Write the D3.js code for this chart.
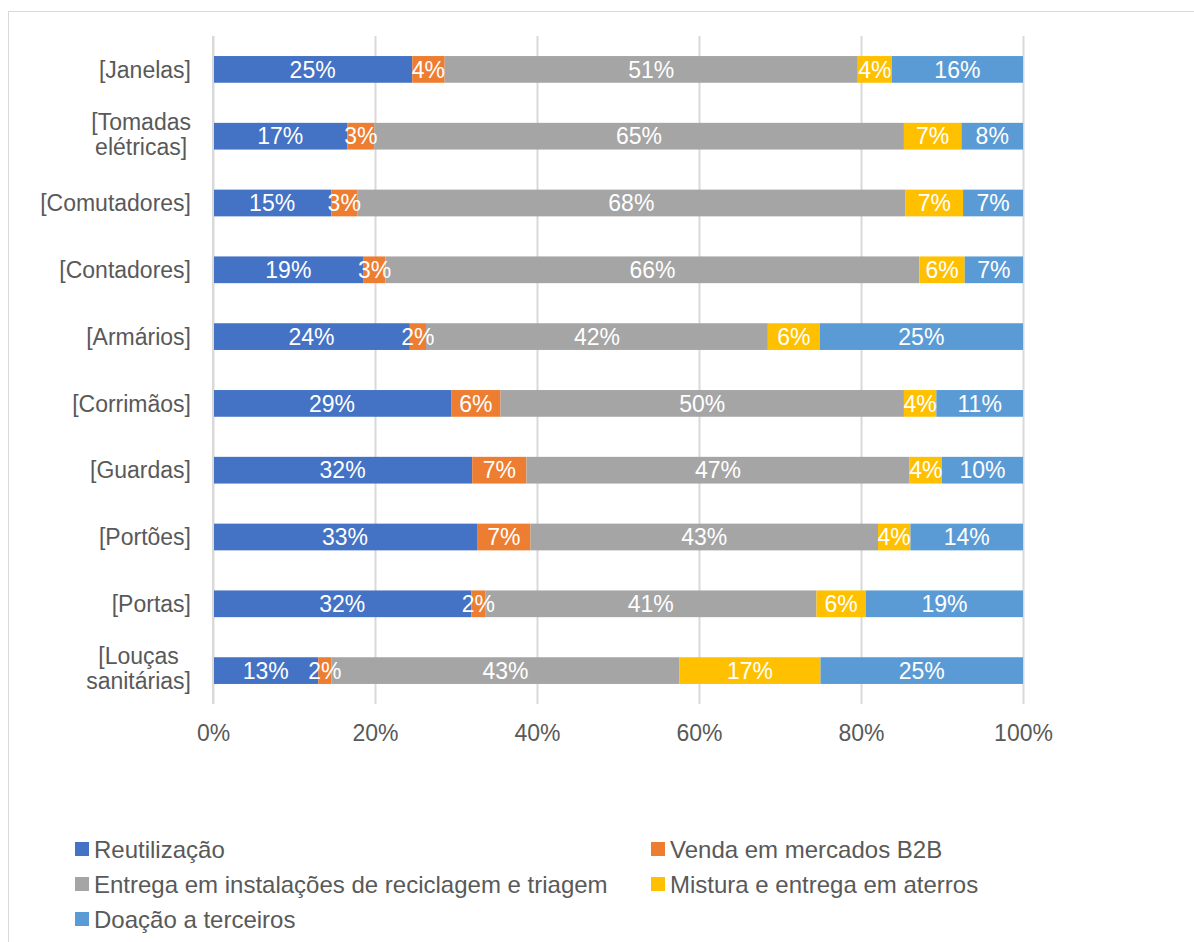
<!DOCTYPE html>
<html>
<head>
<meta charset="utf-8">
<script src="https://cdn.jsdelivr.net/npm/d3@7"></script>
<style>
  html, body { margin: 0; padding: 0; background: #fff; }
  svg { display: block; }
  text { font-family: "Liberation Sans", Arial, sans-serif; }
</style>
</head>
<body>
<svg id="chart" width="1194" height="942"></svg>
<script>
const categories = ["[Janelas]", "[Tomadas elétricas]", "[Comutadores]", "[Contadores]", "[Armários]",
  "[Corrimãos]", "[Guardas]", "[Portões]", "[Portas]", "[Louças sanitárias]"];
const seriesNames = ["Reutilização", "Venda em mercados B2B", "Entrega em instalações de reciclagem e triagem",
  "Mistura e entrega em aterros", "Doação a terceiros"];
const reutilizacao = [24.6, 16.6, 14.6, 18.6, 24.3, 29.4, 32.0, 32.6, 31.9, 13.0];
const vendaB2B     = [4.0, 3.3, 3.2, 2.7, 2.0, 6.1, 6.7, 6.6, 1.7, 1.6];
const reciclagem   = [51.0, 65.4, 67.7, 65.9, 42.2, 49.8, 47.3, 42.9, 40.9, 43.0];
const aterros      = [4.2, 7.1, 7.1, 5.6, 6.4, 4.0, 4.0, 4.0, 6.1, 17.4];
const doacao       = [16.2, 7.6, 7.4, 7.2, 25.1, 10.7, 10.0, 13.9, 19.4, 25.0];
const tickValues = [0, 0.2, 0.4, 0.6, 0.8, 1.0];
const colors = ["#4472C4", "#ED7D31", "#A5A5A5", "#FFC000", "#5B9BD5"];

const seriesValues = [reutilizacao, vendaB2B, reciclagem, aterros, doacao];
const keys = ["s0", "s1", "s2", "s3", "s4"];
const rows = categories.map((c, i) => {
  const r = { cat: c };
  keys.forEach((k, j) => r[k] = seriesValues[j][i] / 100);
  return r;
});

const svg = d3.select("#chart");
const textColor = "#595959";
const gridColor = "#D9D9D9";

// outer border
svg.append("rect").attr("x", 8.5).attr("y", 11.5).attr("width", 1200).attr("height", 1000)
  .attr("fill", "none").attr("stroke", gridColor).attr("stroke-width", 1);

const x = d3.scaleLinear().domain([0, 1]).range([213, 1023]);
const y = d3.scaleBand().domain(categories).range([36, 704]).paddingInner(0.6).paddingOuter(0.3);

// gridlines
const gAxis = svg.append("g").attr("transform", "translate(0,704)")
  .call(d3.axisBottom(x).tickValues(tickValues).tickSize(-668).tickFormat(d3.format(".0%")).tickPadding(21));
gAxis.select(".domain").remove();
gAxis.selectAll(".tick line").attr("stroke", gridColor).attr("stroke-width", 2);
gAxis.selectAll(".tick text").attr("fill", textColor).style("font-size", "23px")
  .style("font-family", "'Liberation Sans', Arial, sans-serif");

// stacks
const stack = d3.stack().keys(keys);
const series = stack(rows);

const layers = svg.append("g").selectAll("g").data(series).join("g")
  .attr("fill", (d, i) => colors[i]);
layers.selectAll("rect").data(d => d).join("rect")
  .attr("x", d => x(d[0]))
  .attr("width", d => x(d[1]) - x(d[0]))
  .attr("y", d => y(d.data.cat))
  .attr("height", y.bandwidth());

const fmt = d3.format(".0%");
svg.append("g").selectAll("g").data(series).join("g")
  .selectAll("text").data(d => d.map(v => ({ v, key: d.key }))).join("text")
  .attr("x", d => (x(d.v[0]) + x(d.v[1])) / 2)
  .attr("y", d => y(d.v.data.cat) + y.bandwidth() / 2)
  .attr("dy", "0.36em")
  .attr("text-anchor", "middle")
  .attr("fill", "#fff")
  .style("font-size", "23px")
  .text(d => fmt(d.v.data[d.key]));

// zero axis line
svg.append("line").attr("x1", x(0)).attr("x2", x(0)).attr("y1", 36).attr("y2", 704)
  .attr("stroke", gridColor).attr("stroke-width", 2);

// category labels (wrap when long, centered lines, right-aligned block)
const labelRight = 191;
const lineH = 25;
categories.forEach(cat => {
  const words = cat.split(" ");
  const lines = words.length > 1 ? words : [cat];
  const cy = y(cat) + y.bandwidth() / 2;
  const g = svg.append("g");
  const texts = lines.map((ln, i) => g.append("text")
    .attr("y", cy + (i - (lines.length - 1) / 2) * lineH - (lines.length > 1 ? 2 : 0))
    .attr("dy", "0.36em")
    .attr("fill", textColor)
    .style("font-size", "23px")
    .text(ln));
  const widths = texts.map(t => t.node().getComputedTextLength());
  const maxW = d3.max(widths);
  texts.forEach(t => t.attr("text-anchor", "middle").attr("x", labelRight - maxW / 2));
});

// legend
const legendPos = [[75, 849], [651, 849], [75, 884], [651, 884], [75, 919]];
const lg = svg.append("g");
seriesNames.forEach((name, i) => {
  const [lx, ly] = legendPos[i];
  lg.append("rect").attr("x", lx).attr("y", ly - 7).attr("width", 14).attr("height", 14).attr("fill", colors[i]);
  lg.append("text").attr("x", lx + 19).attr("y", ly).attr("dy", "0.36em")
    .attr("fill", textColor).style("font-size", "24px").text(name);
});
</script>
</body>
</html>
